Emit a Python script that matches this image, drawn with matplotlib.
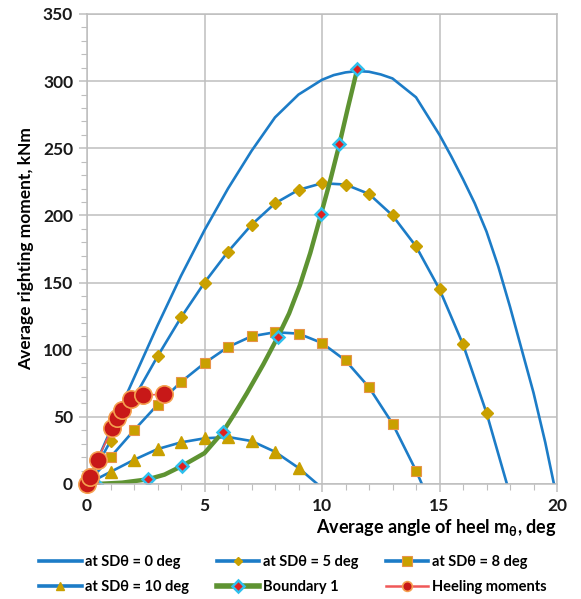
import matplotlib
matplotlib.use('Agg')
import matplotlib.pyplot as plt
from matplotlib.ticker import MultipleLocator

plt.rcParams['font.family'] = ['Lato', 'DejaVu Sans']

# righting moment curves (angle deg, moment kNm)
sd0_x = [0, 1, 2, 3, 4, 5, 6, 7, 8, 9, 10, 10.5, 11, 11.5, 12, 12.5, 13, 14, 15, 15.5, 16, 16.5, 17,
         17.5, 18, 18.5, 19, 19.5, 19.87]
sd0_y = [0, 40, 79, 118, 155, 189, 220, 248, 273, 290, 301, 304.5, 306.5, 307.5, 307, 305, 302, 288, 260,
         244, 227, 209, 188, 162, 132, 100, 68, 31, 0]

sd5_x = [0, 1, 2, 3, 4, 5, 6, 7, 8, 9, 10, 11, 12, 13, 14, 15, 16, 17, 17.87]
sd5_y = [0, 32, 64, 95, 124, 150, 173, 193, 209, 219, 224, 223, 216, 200, 177, 145, 104, 53, 0]

sd8_x = [0, 1, 2, 3, 4, 5, 6, 7, 8, 9, 10, 11, 12, 13, 14, 14.25]
sd8_y = [0, 20, 40, 59, 76, 90, 102, 110, 113, 112, 105, 92, 72, 45, 10, 0]

sd10_x = [0, 1, 2, 3, 4, 5, 6, 7, 8, 9, 9.8]
sd10_y = [0, 9, 18, 26, 31, 34, 35, 32, 24, 12, 0]

# boundary line, markers at its crossing points
bnd_x = [0.4, 1.5, 2.6, 3.3, 4.05, 5.0, 5.77, 6.3, 6.8, 7.5, 8.12, 8.6, 9.06, 9.5, 9.96, 10.35, 10.74, 11.1, 11.5]
bnd_y = [0, 1, 3.5, 7, 13.5, 23, 38.5, 53, 67.5, 89, 109.5, 127, 148, 172, 201, 226, 253, 280, 309]
bnd_marks = [0, 2, 4, 6, 10, 14, 16, 18]

heel_x = [0, 0.13, 0.45, 1.08, 1.26, 1.47, 1.87, 2.4, 3.29]
heel_y = [0, 5, 18, 42, 49, 55, 63, 66, 67]

blue = '#1C7CC7'
gold = '#C9A000'

fig = plt.figure(figsize=(5.81, 5.99), dpi=100)
ax = fig.add_axes([87 / 581, 115 / 599, 470 / 581, 470 / 599])

h0, = ax.plot(sd0_x, sd0_y, color=blue, lw=1.9, label='at SD\u03b8 = 0 deg')
h1, = ax.plot(sd5_x, sd5_y, color=blue, lw=1.9, marker='D', ms=6, mfc=gold, mec=gold,
              markevery=list(range(1, 18)), label='at SD\u03b8 = 5 deg')
h2, = ax.plot(sd8_x, sd8_y, color=blue, lw=1.9, marker='s', ms=7.5, mfc=gold, mec='#E8944A', mew=0.8,
              markevery=list(range(1, 15)), label='at SD\u03b8 = 8 deg')
h3, = ax.plot(sd10_x, sd10_y, color=blue, lw=1.9, marker='^', ms=9, mfc=gold, mec=gold,
              markevery=list(range(1, 10)), label='at SD\u03b8 = 10 deg')
h4, = ax.plot(bnd_x, bnd_y, color='#5E9332', lw=3.2, marker='D', ms=6, mfc='#E02020', mec='#2EC0EE', mew=1.8,
              markevery=bnd_marks, label='Boundary 1')
h5, = ax.plot(heel_x, heel_y, color='#F05858', lw=1.2, marker='o', ms=12.5, mfc='#C81818', mec='#F5A050',
              mew=1.2, label='Heeling moments', clip_on=False, zorder=5)

ax.set_xlim(0, 20)
ax.set_ylim(0, 350)
ax.xaxis.set_major_locator(MultipleLocator(5))
ax.xaxis.set_minor_locator(MultipleLocator(1))
ax.yaxis.set_major_locator(MultipleLocator(50))
ax.yaxis.set_minor_locator(MultipleLocator(10))
ax.grid(True, which='major', color='#BEBEBE', lw=1.1)
ax.set_axisbelow(True)
for s in ax.spines.values():
    s.set_color('#BEBEBE')
    s.set_linewidth(1.1)
ax.tick_params(which='major', direction='out', length=6, color='#BEBEBE', width=1.1,
               labelsize=12.5, pad=4)
ax.tick_params(which='minor', direction='out', length=4, color='#BEBEBE', width=0.8)
for lbl in ax.get_xticklabels() + ax.get_yticklabels():
    lbl.set_fontweight('bold')
    lbl.set_color('#1A1A1A')

ax.set_ylabel('Average righting moment, kNm', fontsize=12.5, fontweight='bold', labelpad=6)
ax.set_xlabel(r'Average angle of heel m$_\mathregular{θ}$, deg', fontsize=13, fontweight='bold',
              loc='right', labelpad=2)

# legend filled row by row as in the original
handles = [h0, h3, h1, h4, h2, h5]
leg = fig.legend(handles=handles, labels=[h.get_label() for h in handles],
                 loc='lower left', bbox_to_anchor=(0.045, -0.014), ncol=3, frameon=False,
                 prop={'size': 10.5, 'weight': 'bold'},
                 handlelength=2.9, columnspacing=1.9, handletextpad=0.25, labelspacing=0.75)
lh = leg.legend_handles
for h, ms in zip(lh, [0, 6, 4, 6, 7, 7]):
    h.set_markersize(ms)
for i in (0, 1, 2, 4):
    lh[i].set_linewidth(2.6)
lh[3].set_linewidth(4)
lh[5].set_linewidth(1.8)

fig.savefig('out.png', dpi=100)
